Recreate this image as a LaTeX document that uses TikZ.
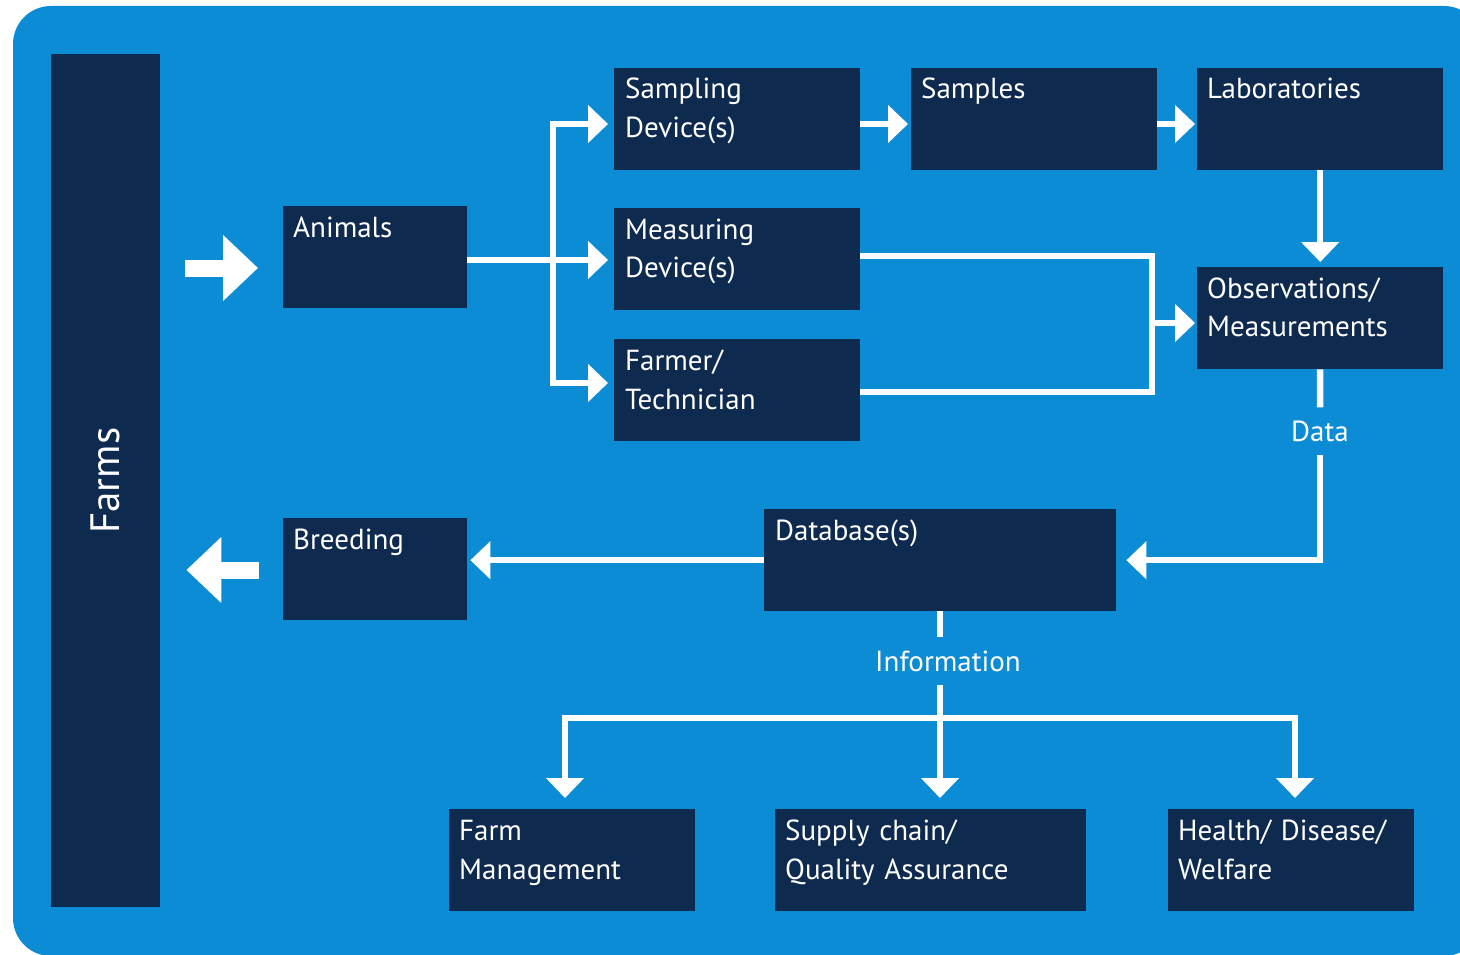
\documentclass[tikz,border=0pt]{standalone}
\usepackage{fontspec}
\setmainfont{PT Sans}
\usetikzlibrary{arrows.meta,positioning}
\definecolor{farmblue}{HTML}{0D8CD6}
\definecolor{navy}{HTML}{0F2A4F}
\tikzset{
  box/.style={fill=navy,anchor=north west,inner sep=0pt},
  boxtext/.style={text=white,anchor=base west,inner sep=0pt,align=left,
    text width=330pt,font=\fontsize{29}{39}\selectfont},
  flowlabel/.style={text=white,font=\fontsize{29}{39}\selectfont,
    inner xsep=4pt,inner ysep=13pt},
  line/.style={draw=white,line width=6.5pt},
  flow/.style={line,-{Triangle[width=37pt,length=20pt]}},
  bigflow/.style={draw=white,line width=17pt,-{Triangle[width=64pt,length=35pt]}}
}
\begin{document}
\begin{tikzpicture}[x=1pt,y=-1pt]
\useasboundingbox (0,0) rectangle (1460,955);
\clip (0,0) rectangle (1460,955);
\fill[farmblue,rounded corners=38pt] (13,6) rectangle (1482,956);

% boxes
\node[box,minimum width=109pt,minimum height=853pt] (farms) at (51,54) {};
\node[text=white,rotate=90,font=\fontsize{41}{48}\selectfont] (farms text) at (farms.center) {Farms};
\node[box,minimum width=184pt,minimum height=102pt] (animals) at (283,206) {};
\node[boxtext] (animals text) at ([shift={(10,31)}]animals.north west) {Animals};
\node[box,minimum width=246pt,minimum height=102pt] (sampling) at (614,68) {};
\node[boxtext] (sampling text) at ([shift={(11,31)}]sampling.north west) {Sampling\\Device(s)};
\node[box,minimum width=246pt,minimum height=102pt] (samples) at (911,68) {};
\node[boxtext] (samples text) at ([shift={(10,31)}]samples.north west) {Samples};
\node[box,minimum width=246pt,minimum height=102pt] (labs) at (1197,68) {};
\node[boxtext] (labs text) at ([shift={(10,31)}]labs.north west) {Laboratories};
\node[box,minimum width=246pt,minimum height=102pt] (measuring) at (614,208) {};
\node[boxtext] (measuring text) at ([shift={(11,31)}]measuring.north west) {Measuring\\Device(s)};
\node[box,minimum width=246pt,minimum height=102pt] (farmer) at (614,339) {};
\node[boxtext] (farmer text) at ([shift={(11,31)}]farmer.north west) {Farmer/\\Technician};
\node[box,minimum width=246pt,minimum height=102pt] (obs) at (1197,267) {};
\node[boxtext] (obs text) at ([shift={(10,31)}]obs.north west) {Observations/\\Measurements};
\node[box,minimum width=184pt,minimum height=102pt] (breeding) at (283,518) {};
\node[boxtext] (breeding text) at ([shift={(10,31)}]breeding.north west) {Breeding};
\node[box,minimum width=352pt,minimum height=102pt] (db) at (764,509) {};
\node[boxtext] (db text) at ([shift={(11,31)}]db.north west) {Database(s)};
\node[box,minimum width=246pt,minimum height=102pt] (mgmt) at (449,809) {};
\node[boxtext] (mgmt text) at ([shift={(10,31)}]mgmt.north west) {Farm\\Management};
\node[box,minimum width=311pt,minimum height=102pt] (supply) at (775,809) {};
\node[boxtext] (supply text) at ([shift={(10,31)}]supply.north west) {Supply chain/\\Quality Assurance};
\node[box,minimum width=246pt,minimum height=102pt] (health) at (1168,809) {};
\node[boxtext] (health text) at ([shift={(10,31)}]health.north west) {Health/ Disease/\\Welfare};

% labels on the connectors
\node[flowlabel] (data) at (1320,431) {Data};
\node[flowlabel] (info) at (948,661) {Information};

% rows and bends
\coordinate (inrow) at (0,268);
\coordinate (outrow) at (0,570);
\coordinate (row1) at (0,124);
\coordinate (row2) at (0,260);
\coordinate (row3) at (0,383);
\coordinate (split) at (553,260);
\coordinate (loopT) at (1152,256);
\coordinate (loopB) at (1152,392);
\coordinate (merge) at (1152,323);
\coordinate (bus) at (940,718);
\coordinate (busL) at (565,718);
\coordinate (busR) at (1295,718);

% big arrows
\draw[bigflow,shorten <=25pt,shorten >=25pt] (farms.east |- inrow) -- (animals.west |- inrow);
\draw[bigflow,shorten <=24pt,shorten >=26pt] (breeding.west |- outrow) -- (farms.east |- outrow);

% top part
\draw[flow,shorten >=6pt] (animals.east |- row2) -- (measuring.west |- row2);
\draw[flow,shorten >=6pt] (split) |- (sampling.west |- row1);
\draw[flow,shorten >=6pt] (split) |- (farmer.west |- row3);
\draw[flow,shorten >=3pt] (sampling.east |- row1) -- (samples.west |- row1);
\draw[flow,shorten >=2pt] (samples.east |- row1) -- (labs.west |- row1);
\draw[flow,shorten >=5pt] (labs.south) -- (obs.north);
\draw[line] (measuring.east |- loopT) -- (loopT) -- (loopB) -- (farmer.east |- loopB);
\draw[flow,shorten >=2pt] (merge) -- (obs.west |- merge);

% data and information
\draw[line] (obs.south) -- (data);
\draw[flow,shorten >=10pt] (data) |- (db.east);
\draw[flow,shorten >=3pt] (db.west) -- (db.west -| breeding.east);
\draw[line] (db.south) -- (db.south |- info.north);
\draw[flow,shorten >=11pt] (bus |- info.south) -- (bus |- supply.north);
\draw[flow,shorten >=11pt] (bus) -- (busL) -- (busL |- mgmt.north);
\draw[flow,shorten >=11pt] (bus) -- (busR) -- (busR |- health.north);
\end{tikzpicture}
\end{document}
